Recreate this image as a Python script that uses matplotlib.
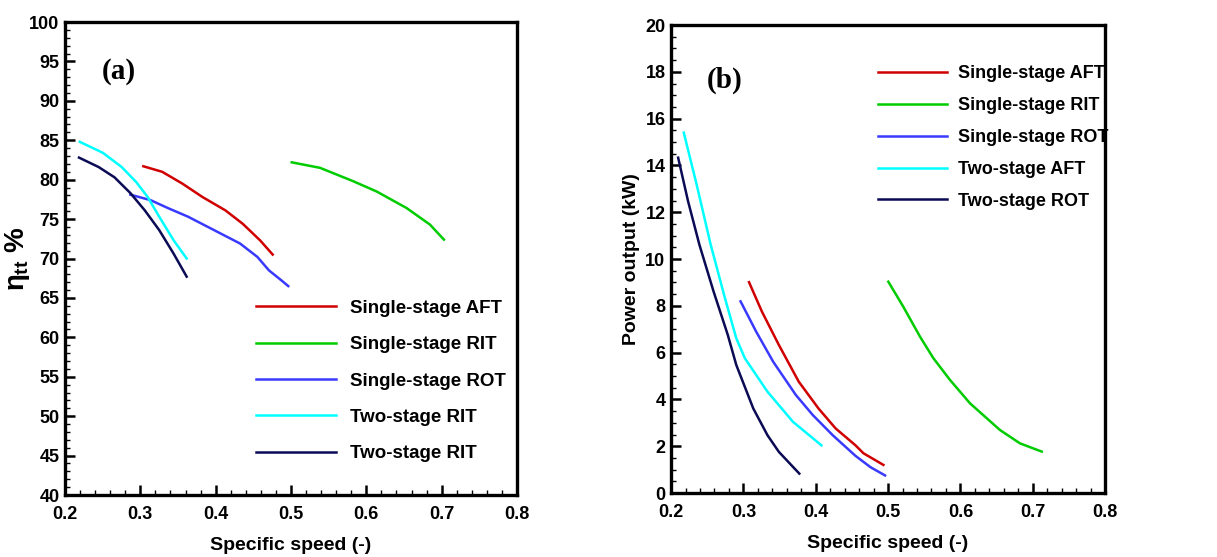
import matplotlib
matplotlib.use("Agg")
import matplotlib.pyplot as plt
from matplotlib.ticker import MultipleLocator

plt.rcParams['font.family'] = ['Liberation Sans', 'DejaVu Sans']
plt.rcParams['font.weight'] = 'bold'
plt.rcParams['mathtext.fontset'] = 'custom'
plt.rcParams['mathtext.rm'] = 'Liberation Sans:bold'
plt.rcParams['mathtext.it'] = 'Liberation Sans:bold'
plt.rcParams['mathtext.bf'] = 'Liberation Sans:bold'

# ---- panel (a): efficiency ----
a_labels = ["Single-stage AFT", "Single-stage RIT", "Single-stage ROT", "Two-stage RIT", "Two-stage RIT"]
a_aft_x = [0.304, 0.329, 0.3558, 0.3825, 0.413, 0.436, 0.459, 0.4757]
a_aft_y = [81.7, 81.0, 79.5, 77.8, 76.1, 74.4, 72.3, 70.5]
a_rit_x = [0.501, 0.5386, 0.5827, 0.6137, 0.6535, 0.6845, 0.703]
a_rit_y = [82.2, 81.5, 79.8, 78.5, 76.4, 74.3, 72.4]
a_rot_x = [0.2868, 0.3136, 0.3366, 0.3634, 0.3979, 0.4324, 0.4554, 0.4707, 0.4876, 0.4964]
a_rot_y = [78.1, 77.4, 76.4, 75.3, 73.6, 71.9, 70.2, 68.5, 67.2, 66.5]
a_two1_x = [0.2197, 0.2504, 0.2753, 0.2945, 0.3098, 0.3251, 0.3443, 0.3615]
a_two1_y = [84.8, 83.4, 81.6, 79.7, 77.8, 75.3, 72.3, 70.0]
a_two2_x = [0.2186, 0.2447, 0.2657, 0.2868, 0.306, 0.3251, 0.3443, 0.3615]
a_two2_y = [82.8, 81.6, 80.3, 78.3, 76.1, 73.6, 70.6, 67.7]

# ---- panel (b): power output ----
b_labels = ["Single-stage AFT", "Single-stage RIT", "Single-stage ROT", "Two-stage AFT", "Two-stage ROT"]
b_aft_x = [0.3078, 0.3255, 0.349, 0.3765, 0.4039, 0.4275, 0.4549, 0.4659, 0.4936]
b_aft_y = [9.01, 7.76, 6.33, 4.76, 3.61, 2.76, 2.04, 1.70, 1.2]
b_rit_x = [0.5004, 0.5211, 0.5442, 0.5627, 0.5857, 0.6134, 0.6548, 0.6825, 0.7125]
b_rit_y = [9.03, 7.96, 6.68, 5.76, 4.83, 3.83, 2.69, 2.12, 1.77]
b_rot_x = [0.2961, 0.3176, 0.3412, 0.3725, 0.396, 0.4235, 0.4549, 0.4759, 0.4959]
b_rot_y = [8.19, 6.9, 5.61, 4.19, 3.33, 2.47, 1.59, 1.1, 0.75]
b_two1_x = [0.2176, 0.2353, 0.2549, 0.2745, 0.2902, 0.302, 0.3333, 0.3686, 0.4078]
b_two1_y = [15.4, 13.19, 10.6, 8.33, 6.61, 5.76, 4.33, 3.04, 2.04]
b_two2_x = [0.2098, 0.2235, 0.2392, 0.2588, 0.2784, 0.2902, 0.3137, 0.3333, 0.349, 0.3773]
b_two2_y = [14.33, 12.47, 10.61, 8.61, 6.76, 5.47, 3.61, 2.47, 1.76, 0.83]

colors = ["#D00000", "#00CC00", "#3A3AFF", "#00FFFF", "#0A0A55"]

fig = plt.figure(figsize=(12.17, 5.57), dpi=100)
ax1 = fig.add_axes([0.0534, 0.1113, 0.3714, 0.8492])
ax2 = fig.add_axes([0.5514, 0.1149, 0.3566, 0.8402])

for ax in (ax1, ax2):
    for s in ax.spines.values():
        s.set_linewidth(2.4)
    ax.tick_params(which='major', direction='in', length=7, width=1.8, labelsize=13, pad=4)
    ax.tick_params(axis='x', which='major', pad=8)
    ax.tick_params(which='minor', direction='in', length=3.5, width=1.0)
    ax.tick_params(top=False, right=False)
    ax.set_xlim(0.2, 0.8)
    ax.xaxis.set_major_locator(MultipleLocator(0.1))
    ax.xaxis.set_minor_locator(MultipleLocator(0.02))
    ax.set_xlabel("Specific speed (-)", fontsize=14, fontweight='bold', labelpad=10)
    for lab in ax.get_xticklabels() + ax.get_yticklabels():
        lab.set_fontweight('bold')

seriesA = [(a_aft_x, a_aft_y), (a_rit_x, a_rit_y), (a_rot_x, a_rot_y), (a_two1_x, a_two1_y), (a_two2_x, a_two2_y)]
for (x, y), c, l in zip(seriesA, colors, a_labels):
    ax1.plot(x, y, color=c, lw=1.8, label=l)
ax1.set_ylim(40, 100)
ax1.yaxis.set_major_locator(MultipleLocator(5))
ax1.yaxis.set_minor_locator(MultipleLocator(1))
ax1.set_ylabel(r"$\eta_{tt}$ %", fontsize=20, fontweight='bold')
ax1.yaxis.set_label_coords(-0.072, 0.5)
ax1.text(0.249, 93.7, "(a)", family='Liberation Serif', fontsize=21, fontweight='bold', va='center')
leg1 = ax1.legend(loc='upper left', bbox_to_anchor=(0.405, 0.429), frameon=False, fontsize=13.5,
                  handlelength=4.3, handletextpad=0.75, labelspacing=1.03, borderaxespad=0)
for t in leg1.get_texts():
    t.set_fontweight('bold')

seriesB = [(b_aft_x, b_aft_y), (b_rit_x, b_rit_y), (b_rot_x, b_rot_y), (b_two1_x, b_two1_y), (b_two2_x, b_two2_y)]
for (x, y), c, l in zip(seriesB, colors, b_labels):
    ax2.plot(x, y, color=c, lw=1.8, label=l)
ax2.set_ylim(0, 20)
ax2.yaxis.set_major_locator(MultipleLocator(2))
ax2.yaxis.set_minor_locator(MultipleLocator(0.5))
ax2.set_ylabel("Power output (kW)", fontsize=14, fontweight='bold', labelpad=4)
ax2.text(0.2498, 17.65, "(b)", family='Liberation Serif', fontsize=21, fontweight='bold', va='center')
leg2 = ax2.legend(loc='upper left', bbox_to_anchor=(0.46, 0.929), frameon=False, fontsize=13,
                  handlelength=3.8, handletextpad=0.65, labelspacing=0.82, borderaxespad=0)
for t in leg2.get_texts():
    t.set_fontweight('bold')

fig.savefig("out.png", dpi=100)
